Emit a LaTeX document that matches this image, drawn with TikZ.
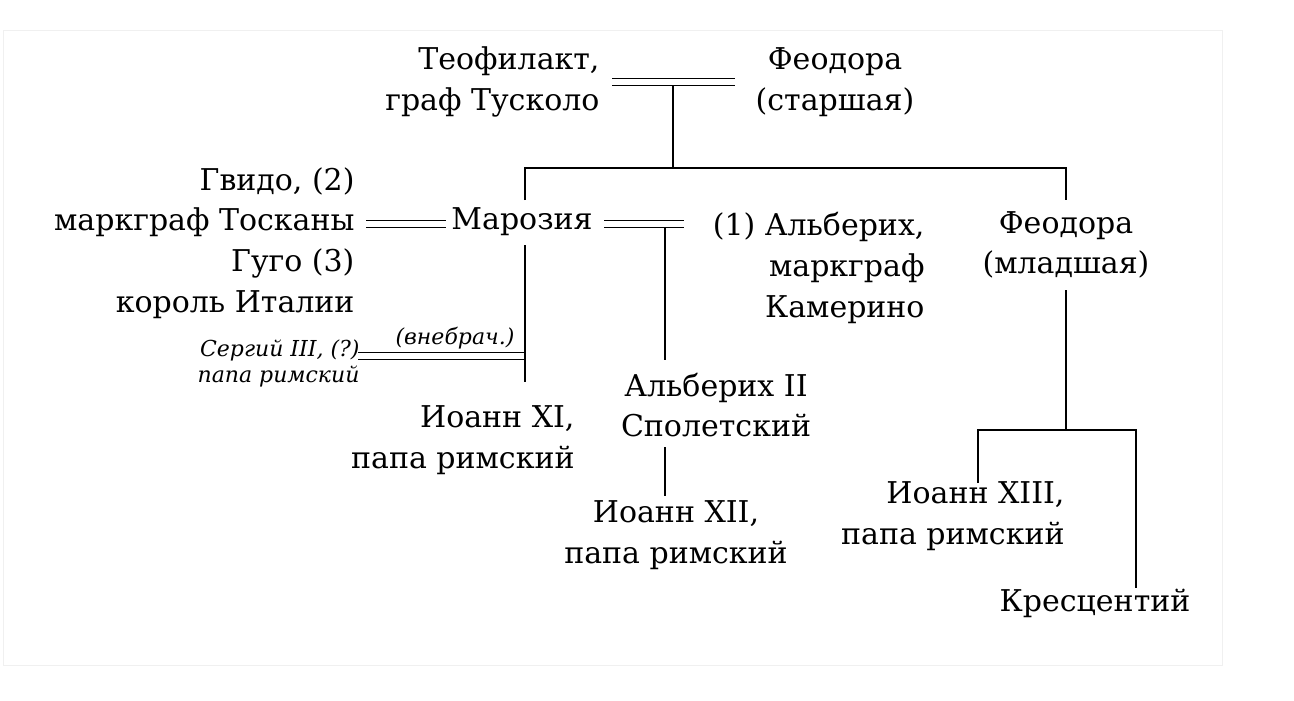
\documentclass[tikz,border=0pt]{standalone}
\usepackage{fontspec}
\setmainfont{DejaVu Serif}
\tikzset{every picture/.style={line width=0.75pt}}
\tikzset{
  person/.style={inner sep=0pt, font=\fontsize{22.5}{30.5}\selectfont},
  note/.style={inner sep=0pt, font=\fontsize{16.5}{19.5}\selectfont\itshape},
  marr/.style={double, double distance=4.8pt, line width=0.9pt},
  kin/.style={line width=0.9pt}
}
\begin{document}
\begin{tikzpicture}[x=0.75pt,y=0.75pt,yscale=-1,xscale=1]
	\useasboundingbox (0,0) rectangle (1294,700);
	%frame
	\draw [black!6, line width=0.6pt] (3,30) rectangle (1222,665);
	
	% Text Nodes
	\node (teo) [person, anchor=east, align=right] at (600,82) {Теофилакт,\\граф Тусколо};
	\node (feoS) [person, align=center] at (835,82) {Феодора\\(старшая)};
	\node (gvido) [person, anchor=east, align=right] at (355,243) {Гвидо, (2)\\маркграф Тосканы\\Гуго (3)\\король Италии};
	\node (maroz) [person] at (522,222) {Марозия};
	\node (alb) [person, anchor=east, align=right] at (925,268) {(1) Альберих,\\маркграф\\Камерино};
	\node (feoM) [person, align=center] at (1066,245) {Феодора\\(младшая)};
	\node (serg) [note, anchor=east, align=right] at (360,363) {Сергий III, (?)\\папа римский};
	\node (vnebr) [note] at (455,338) {(внебрач.)};
	\node (ioXI) [person, anchor=east, align=right] at (575,440) {Иоанн XI,\\папа римский};
	\node (albII) [person, align=center] at (716,405) {Альберих II\\Сполетский};
	\node (ioXII) [person, align=center] at (676,535) {Иоанн XII,\\папа римский};
	\node (ioXIII) [person, anchor=east, align=right] at (1065,516) {Иоанн XIII,\\папа римский};
	\node (kresc) [person] at (1095,603) {Кресцентий};
	
	% Coordinates
	\coordinate (m1) at (673,82);
	\coordinate (m2) at (525,168);
	\coordinate (m3) at (1066,168);
	\coordinate (m4) at (665,224);
	\coordinate (m5) at (525,356);
	\coordinate (m6) at (978,430);
	\coordinate (m7) at (1136,430);
	
	% Marriages
	\draw [marr] (612,82) -- (735,82);
	\draw [marr] (366,224) -- (446,224);
	\draw [marr] (604,224) -- (684,224);
	\draw [marr] (358,356) -- (m5);
	
	% Descent
	\draw [kin] (m1) ++(0,4) -- (673,168);
	\draw [kin] (525,200) -- (m2) -- (m3) -- (1066,200);
	\draw [kin] (m4) ++(0,4) -- (665,360);
	\draw [kin] (525,245) -- (525,382);
	\draw [kin] (665,447) -- (665,496);
	\draw [kin] (1066,290) -- (1066,430);
	\draw [kin] (978,483) -- (m6) -- (m7) -- (1136,588);
\end{tikzpicture}
\end{document}
